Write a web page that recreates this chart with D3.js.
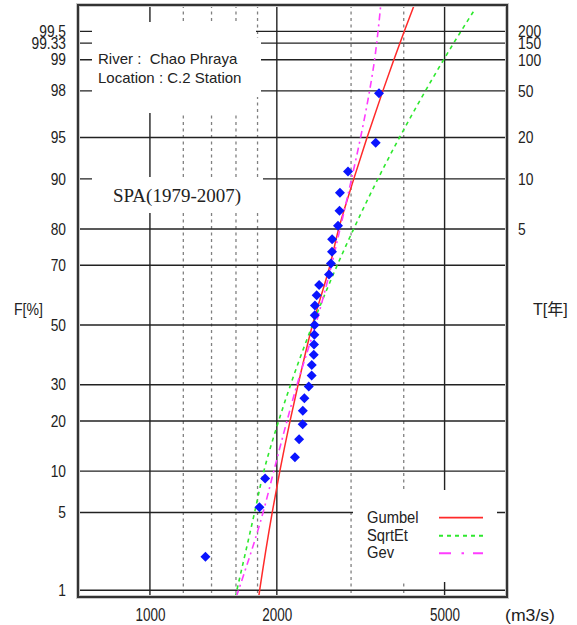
<!DOCTYPE html>
<html><head><meta charset="utf-8">
<script src="https://cdn.jsdelivr.net/npm/d3@7"></script>
<style>
body{margin:0;background:#fff;}
svg{display:block;}
text{font-family:"Liberation Sans","Noto Sans CJK JP",Arial,sans-serif;fill:#222;}
</style></head><body>
<svg id="c" width="577" height="625"></svg>
<script>
// ---------- data ----------
const fTicks  = [1,5,10,20,30,50,70,80,90,95,98,99,99.33,99.5];
const fLabels = ["1","5","10","20","30","50","70","80","90","95","98","99","99.33","99.5"];
const tValues = [5,10,20,50,100,150,200];
const tF      = [80,90,95,98,99,99.33,99.5];
const qLabels = [1000,2000,5000];
const qMinor  = [1200,1400,1600,1800,3000,4000];

const obsF = [2.1,5.5,8.9,12.3,15.8,19.2,22.6,26.0,29.5,32.9,36.3,39.7,43.2,46.6,50.0,53.4,56.8,60.3,63.7,67.1,70.5,74.0,77.4,80.8,84.2,87.7,91.1,94.5,97.9];
const obsQ = [1354,1819,1876,2208,2259,2303,2305,2325,2381,2419,2420,2447,2450,2455,2458,2460,2463,2486,2520,2659,2688,2703,2705,2793,2816,2823,2950,3432,3494];

const gumbelF = [0.85,1,5,10,20,30,50,70,80,90,95,98,99,99.5,99.75];
const gumbelQ = [1811,1821,1950,2033,2150,2246,2430,2674,2803,3045,3274,3569,3790,4012,4237];
const sqrtF   = [0.85,5,10,20,30,50,70,80,90,95,98,99,99.5,99.7];
const sqrtQ   = [1594,1771,1863,2020,2156,2430,2782,3042,3474,3908,4503,4973,5467,5850];
const gevF    = [0.85,5,10,20,30,50,70,80,90,95,98,99,99.5,99.75];
const gevQ    = [1602,1855,1967,2114,2233,2471,2696,2824,3008,3160,3319,3411,3476,3528];

const legendNames = ["Gumbel","SqrtEt","Gev"];

// ---------- helpers ----------
function probit(p){
  const a=[-3.969683028665376e+01,2.209460984245205e+02,-2.759285104469687e+02,1.383577518672690e+02,-3.066479806614716e+01,2.506628277459239e+00];
  const b=[-5.447609879822406e+01,1.615858368580409e+02,-1.556989798598866e+02,6.680131188771972e+01,-1.328068155288572e+01];
  const c=[-7.784894002430293e-03,-3.223964580411365e-01,-2.400758277161838e+00,-2.549732539343734e+00,4.374664141464968e+00,2.938163982698783e+00];
  const d=[7.784695709041462e-03,3.224671290700398e-01,2.445134137142996e+00,3.754408661907416e+00];
  const pl=0.02425, ph=1-pl; let q,r;
  if(p<pl){q=Math.sqrt(-2*Math.log(p));return (((((c[0]*q+c[1])*q+c[2])*q+c[3])*q+c[4])*q+c[5])/((((d[0]*q+d[1])*q+d[2])*q+d[3])*q+1);}
  if(p<=ph){q=p-0.5;r=q*q;return (((((a[0]*r+a[1])*r+a[2])*r+a[3])*r+a[4])*r+a[5])*q/(((((b[0]*r+b[1])*r+b[2])*r+b[3])*r+b[4])*r+1);}
  q=Math.sqrt(-2*Math.log(1-p));return -(((((c[0]*q+c[1])*q+c[2])*q+c[3])*q+c[4])*q+c[5])/((((d[0]*q+d[1])*q+d[2])*q+d[3])*q+1);
}
function compress(sel, factor){
  sel.each(function(){
    const w=this.getComputedTextLength();
    this.setAttribute("textLength", w*factor);
    this.setAttribute("lengthAdjust","spacingAndGlyphs");
  });
}

// ---------- layout ----------
const L=78, R=507, T=5, B=597;
const svg=d3.select("#c");
const x=d3.scaleLog().domain([675.1,7031]).range([L,R]);
const zScale=d3.scaleLinear().domain([-2.386,2.807]).range([B,T]);
const y=f=>zScale(probit(f/100));

// grid
const grid=svg.append("g");
grid.selectAll("line.minor").data(qMinor).join("line")
  .attr("x1",d=>x(d)).attr("x2",d=>x(d)).attr("y1",T).attr("y2",B)
  .attr("stroke","#808080").attr("stroke-width",1.3).attr("stroke-dasharray","3,3.5");
grid.selectAll("line.major").data(qLabels).join("line")
  .attr("x1",d=>x(d)).attr("x2",d=>x(d)).attr("y1",T).attr("y2",B)
  .attr("stroke","#222").attr("stroke-width",1.4);
grid.selectAll("line.h").data(fTicks).join("line")
  .attr("x1",L).attr("x2",R).attr("y1",d=>y(d)).attr("y2",d=>y(d))
  .attr("stroke","#222").attr("stroke-width",1.4);

// white masks behind text boxes
const masks=[[92,22,256,113],[256,38,261,97],[92,177,263,213],[353,490,497,582]];
svg.append("g").selectAll("rect").data(masks).join("rect")
  .attr("x",d=>d[0]).attr("y",d=>d[1]).attr("width",d=>d[2]-d[0]).attr("height",d=>d[3]-d[1])
  .attr("fill","#fff");

// clip
svg.append("clipPath").attr("id","clip").append("rect").attr("x",L).attr("y",T).attr("width",R-L).attr("height",B-T);

const line=d3.line().x(d=>x(d[1])).y(d=>y(d[0])).curve(d3.curveMonotoneY);
const styles=[
  {F:gumbelF,Q:gumbelQ,color:"#ff2a2a",dash:null,legDash:null,w:1.5},
  {F:sqrtF,Q:sqrtQ,color:"#2ee82e",dash:"4,4",legDash:"4,4",w:1.6},
  {F:gevF,Q:gevQ,color:"#ff3cff",dash:"7,4,2,4",legDash:"12,10.5,2.5,9",w:1.6}
];
const lg=svg.append("g").attr("clip-path","url(#clip)");
styles.forEach(s=>{
  lg.append("path").datum(s.F.map((f,i)=>[f,s.Q[i]])).attr("d",line)
    .attr("fill","none").attr("stroke",s.color).attr("stroke-width",s.w)
    .attr("stroke-dasharray",s.dash);
});

// points
svg.append("g").selectAll("path").data(obsF.map((f,i)=>[f,obsQ[i]])).join("path")
  .attr("d",d3.symbol(d3.symbolSquare,50))
  .attr("transform",d=>`translate(${x(d[1])},${y(d[0])}) rotate(45)`)
  .attr("fill","#0a14ff");

// frame
svg.append("rect").attr("x",L).attr("y",T).attr("width",R-L).attr("height",B-T)
  .attr("fill","none").attr("stroke","#c8c8c8").attr("stroke-width",4);
svg.append("rect").attr("x",L).attr("y",T).attr("width",R-L).attr("height",B-T)
  .attr("fill","none").attr("stroke","#333").attr("stroke-width",2);

// axes
const ax=svg.append("g").attr("transform",`translate(${L},0)`)
  .call(d3.axisLeft(zScale).tickValues(fTicks.map(f=>probit(f/100))).tickFormat((d,i)=>fLabels[i]).tickSize(0).tickPadding(12));
ax.select(".domain").remove();
ax.selectAll("text").style("font-size","16px").attr("fill","#222");
compress(ax.selectAll("text"),0.86);

const ar=svg.append("g").attr("transform",`translate(${R},0)`)
  .call(d3.axisRight(zScale).tickValues(tF.map(f=>probit(f/100))).tickFormat((d,i)=>tValues[i]).tickSize(0).tickPadding(11));
ar.select(".domain").remove();
ar.selectAll("text").style("font-size","16.5px").attr("fill","#222");
compress(ar.selectAll("text"),0.84);

const ab=svg.append("g").attr("transform",`translate(0,${B})`)
  .call(d3.axisBottom(x).tickValues(qLabels).tickFormat(d3.format("d")).tickSize(0).tickPadding(12));
ab.select(".domain").remove();
ab.selectAll("text").style("font-size","17.5px").attr("fill","#222");
compress(ab.selectAll("text"),0.77);

// titles
const t1=svg.append("text").attr("x",505).attr("y",621).style("font-size","17px").text("(m3/s)");
t1.attr("textLength",50).attr("lengthAdjust","spacingAndGlyphs");
const t2=svg.append("text").attr("x",14).attr("y",315).style("font-size","16px").text("F[%]");
compress(t2,0.88);
svg.append("text").attr("x",533).attr("y",315).style("font-size","16px").text("T[年]");

svg.append("text").attr("x",98).attr("y",64).style("font-size","15px").style("white-space","pre").text("River :  Chao Phraya");
svg.append("text").attr("x",98).attr("y",83).style("font-size","15px").style("white-space","pre").text("Location : C.2 Station");
svg.append("text").attr("x",113).attr("y",202).style("font-family","'Liberation Serif',serif").style("font-size","18px")
  .attr("textLength",128).attr("lengthAdjust","spacingAndGlyphs").text("SPA(1979-2007)");

// legend
const ly=[517.7,535.7,553.3];
const leg=svg.append("g");
styles.forEach((s,i)=>{
  leg.append("line").attr("x1",439).attr("x2",483).attr("y1",ly[i]).attr("y2",ly[i])
    .attr("stroke",s.color).attr("stroke-width",s.w+0.3).attr("stroke-dasharray",s.legDash);
  const t=leg.append("text").attr("x",367).attr("y",ly[i]+5).style("font-size","16px").text(legendNames[i]);
  compress(t,0.92);
});
</script></body></html>
